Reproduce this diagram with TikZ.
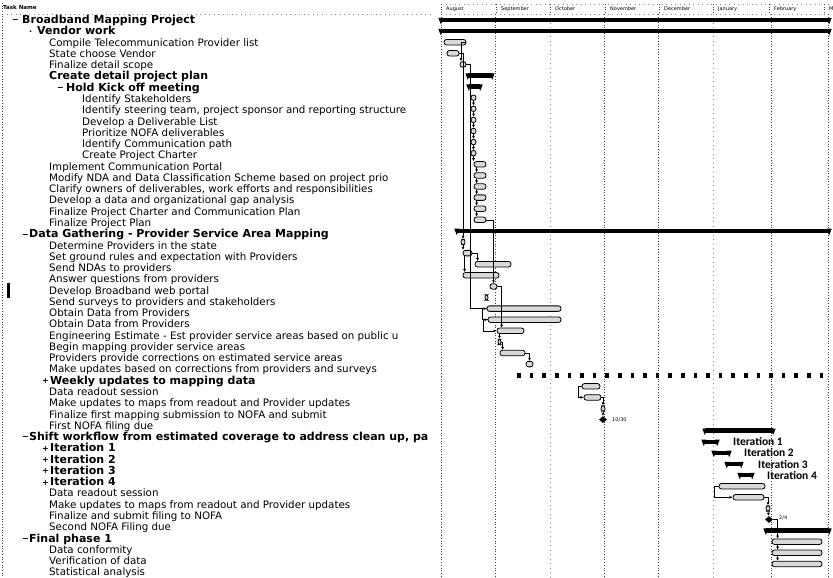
\documentclass[tikz,border=0pt]{standalone}
\usepackage{fontspec}
\setmainfont{DejaVu Sans}
\newfontfamily\iterfont{Carlito}
\usetikzlibrary{shapes.geometric,arrows.meta}
\tikzset{
  tname/.style={anchor=base west, inner sep=0pt, font=\fontsize{10.3}{11}\selectfont},
  tsum/.style={anchor=base west, inner sep=0pt, font=\fontsize{11}{11}\selectfont\bfseries},
  omark/.style={anchor=base west, inner sep=0pt, font=\fontsize{8}{9}\selectfont\bfseries},
  tbar/.style={draw=black, line width=0.8pt, fill=gray!30, rounded corners=2.5pt, minimum height=5.5pt, inner sep=0pt},
  sbar/.style={fill=black, minimum height=4.5pt, inner sep=0pt},
  mstone/.style={diamond, fill=black, minimum width=8pt, minimum height=7pt, inner sep=0pt},
  wk/.style={fill=black, minimum width=3.5pt, minimum height=5pt, inner sep=0pt},
  dep/.style={line width=0.6pt, -{Latex[length=3pt,width=3pt]}},
  gridmain/.style={dotted, line width=0.7pt, black!75},
  gridlight/.style={loosely dotted, line width=0.5pt, black!45},
  hdr/.style={anchor=base west, inner sep=0pt, font=\fontsize{5}{6}\selectfont},
  itlab/.style={anchor=west, inner sep=0pt, font=\iterfont\bfseries\fontsize{11.5}{12}\selectfont},
  dlab/.style={anchor=west, inner sep=0pt, font=\fontsize{5}{6}\selectfont},
}
\newcommand\TL[4]{\node[#1] (n#2) at (#3,{20+11.27*#2+3.6}) {#4};}
\newcommand\OM[3]{\node[omark] (o#1) at (#2,{20+11.27*#1+3}) {#3};}
\newcommand\TB[4]{\node[tbar, minimum width={#4-#3}] (#1) at ({(#3+#4)/2},{20+11.1*#2}) {};}
\newcommand\SB[4]{\node[sbar, minimum width={#4-#3}] (#1) at ({(#3+#4)/2},{20+11.1*#2}) {};
  \fill (#1.west) ++(-2.5,-2.2) -- ++(5,0) -- ++(-2.5,6.5) -- cycle;
  \fill (#1.east) ++(-2.5,-2.2) -- ++(5,0) -- ++(-2.5,6.5) -- cycle;}
\begin{document}
\begin{tikzpicture}[x=1pt,y=-1pt]
\useasboundingbox (0,0) rectangle (833,578);
\fill[white] (0,0) rectangle (833,578);
% ---------- header ----------
\node[hdr, font=\fontsize{5.5}{6}\selectfont\bfseries] (th) at (3,10) {Task Name};
\draw[gridlight] (2,14) -- (431,14);
\draw[gridmain] (2,3) -- (2,578);
\draw[gridlight] (441,4) -- (833,4);
\draw[gridlight] (441,14) -- (833,14);
\foreach \xa/\lab in {441/August,496/September,550/October,605/November,659/December,713/January,769/February,824/M}{
  \draw[gridmain] (\xa,4) -- (\xa,14);
  \node[hdr] at (\xa+5,11) {\lab};
}
% ---------- grid lines in chart ----------
\draw[gridmain] (441,14) -- (441,578);
\foreach \xa in {495,604,658,771,828} \draw[gridmain] (\xa,14) -- (\xa,578);
\foreach \xa in {550,713} \draw[gridlight] (\xa,14) -- (\xa,578);
% scan mark
\fill (7,283) rectangle (9.5,298);
% ---------- task names ----------
\begin{scope}
\clip (0,14) rectangle (431,578);
\OM{0}{12}{−}
\TL{tsum}{0}{22}{Broadband Mapping Project}
\OM{1}{29}{·}
\TL{tsum}{1}{37}{Vendor work}
\TL{tname}{2}{49}{Compile Telecommunication Provider list}
\TL{tname}{3}{49}{State choose Vendor}
\TL{tname}{4}{49}{Finalize detail scope}
\TL{tsum}{5}{49}{Create detail project plan}
\OM{6}{57}{−}
\TL{tsum}{6}{66}{Hold Kick off meeting}
\TL{tname}{7}{82}{Identify Stakeholders}
\TL{tname}{8}{82}{Identify steering team, project sponsor and reporting structure}
\TL{tname}{9}{82}{Develop a Deliverable List}
\TL{tname}{10}{82}{Prioritize NOFA deliverables}
\TL{tname}{11}{82}{Identify Communication path}
\TL{tname}{12}{82}{Create Project Charter}
\TL{tname}{13}{49}{Implement Communication Portal}
\TL{tname}{14}{49}{Modify NDA and Data Classification Scheme based on project prio}
\TL{tname}{15}{49}{Clarify owners of deliverables, work efforts and responsibilities}
\TL{tname}{16}{49}{Develop a data and organizational gap analysis}
\TL{tname}{17}{49}{Finalize Project Charter and Communication Plan}
\TL{tname}{18}{49}{Finalize Project Plan}
\OM{19}{22}{−}
\TL{tsum}{19}{29}{Data Gathering - Provider Service Area Mapping}
\TL{tname}{20}{49}{Determine Providers in the state}
\TL{tname}{21}{49}{Set ground rules and expectation with Providers}
\TL{tname}{22}{49}{Send NDAs to providers}
\TL{tname}{23}{49}{Answer questions from providers}
\TL{tname}{24}{49}{Develop Broadband web portal}
\TL{tname}{25}{49}{Send surveys to providers and stakeholders}
\TL{tname}{26}{49}{Obtain Data from Providers}
\TL{tname}{27}{49}{Obtain Data from Providers}
\TL{tname}{28}{49}{Engineering Estimate - Est provider service areas based on public u}
\TL{tname}{29}{49}{Begin mapping provider service areas}
\TL{tname}{30}{49}{Providers provide corrections on estimated service areas}
\TL{tname}{31}{49}{Make updates based on corrections from providers and surveys}
\OM{32}{42}{+}
\TL{tsum}{32}{50}{Weekly updates to mapping data}
\TL{tname}{33}{49}{Data readout session}
\TL{tname}{34}{49}{Make updates to maps from readout and Provider updates}
\TL{tname}{35}{49}{Finalize first mapping submission to NOFA and submit}
\TL{tname}{36}{49}{First NOFA filing due}
\OM{37}{22}{−}
\TL{tsum}{37}{29}{Shift workflow from estimated coverage to address clean up, pa}
\OM{38}{42}{+}
\TL{tsum}{38}{50}{Iteration 1}
\OM{39}{42}{+}
\TL{tsum}{39}{50}{Iteration 2}
\OM{40}{42}{+}
\TL{tsum}{40}{50}{Iteration 3}
\OM{41}{42}{+}
\TL{tsum}{41}{50}{Iteration 4}
\TL{tname}{42}{49}{Data readout session}
\TL{tname}{43}{49}{Make updates to maps from readout and Provider updates}
\TL{tname}{44}{49}{Finalize and submit filing to NOFA}
\TL{tname}{45}{49}{Second NOFA Filing due}
\OM{46}{22}{−}
\TL{tsum}{46}{29}{Final phase 1}
\TL{tname}{47}{49}{Data conformity}
\TL{tname}{48}{49}{Verification of data}
\TL{tname}{49}{49}{Statistical analysis}
\end{scope}
% ---------- bars ----------
\SB{g0}{0}{441}{829}
\SB{g1}{1}{441}{829}
\TB{b2}{2}{444}{466}
\TB{b3}{3}{447}{459}
\TB{b4}{4}{460}{466}
\SB{g5}{5}{468}{492}
\SB{g6}{6}{469}{480}
\foreach \i in {7,...,12} {\TB{b\i}{\i}{471}{476}}
\foreach \i in {13,...,18} {\TB{b\i}{\i}{474}{486}}
\SB{g19}{19}{457}{829}
\TB{b20}{20}{461}{465}
\TB{b21}{21}{463}{472}
\TB{b22}{22}{475}{511}
\TB{b23}{23}{463}{499}
\TB{b24}{24}{490}{497}
\TB{b25}{25}{485}{488}
\TB{b26}{26}{487}{561}
\TB{b27}{27}{488}{561}
\TB{b28}{28}{497}{524}
\TB{b29}{29}{498}{501}
\TB{b30}{30}{500}{525}
\TB{b31}{31}{526}{533}
\foreach \k in {0,...,24} {\node[wk] (w\k) at ({519+12.6*\k},{20+11.1*32}) {};}
\TB{b33}{33}{582}{600}
\TB{b34}{34}{584}{601}
\TB{b35}{35}{601}{605}
\node[mstone] (m36) at (603,{20+11.1*36}) {};
\node[dlab] (l36) at (612,{20+11.1*36}) {10/30};
\SB{g37}{37}{705}{773}
\SB{g38}{38}{704}{717}
\SB{g39}{39}{714}{729}
\SB{g40}{40}{727}{741}
\SB{g41}{41}{740}{752}
\node[itlab] (i38) at (733,{20+11.1*38}) {Iteration 1};
\node[itlab] (i39) at (744,{20+11.1*39}) {Iteration 2};
\node[itlab] (i40) at (758,{20+11.1*40}) {Iteration 3};
\node[itlab] (i41) at (767,{20+11.1*41}) {Iteration 4};
\TB{b42}{42}{719}{765}
\TB{b43}{43}{733}{764}
\TB{b44}{44}{766}{770}
\node[mstone] (m45) at (769,{20+11.1*45}) {};
\node[dlab] (l45) at (779,{20+11.1*45-2}) {2/4};
\SB{g46}{46}{766}{829}
\TB{b47}{47}{772}{822}
\TB{b48}{48}{772}{822}
\TB{b49}{49}{772}{822}
% ---------- dependencies ----------
\draw[dep] (b3.east) -| (b20.north);
\draw[dep] (b4.east) -- ++(4,0) |- (b26.west);
\draw[dep] (b2.east) -| ([xshift=-2pt]b4.north);
\foreach \i/\j in {7/8,8/9,9/10,10/11,11/12} \draw[dep] (b\i.south) -- (b\j.north);
\draw[dep] (b12.south) -- (b12.south |- b13.north);
\foreach \i/\j in {13/14,14/15,15/16,16/17,17/18}
  \draw[dep] ([xshift=3pt]b\i.south west) -- ([xshift=3pt]b\j.north west);
\draw[dep] (b18.east) -| (b24.north);
\draw[dep] (b20.south) -- (b20.south |- b21.north);
\draw[dep] (b21.east) -| ([xshift=3pt]b22.north west);
\draw[dep] ([xshift=2pt]b21.south west) -- ([xshift=2pt]b23.north west);
\draw[dep] (b24.east) -| ([xshift=5pt]b28.north west);
\draw[dep] (b26.west) -- ++(-4,0) |- (b27.west);
\draw[dep] (b27.west) -- ++(-4,0) |- (b28.west);
\draw[dep] (b29.north |- b28.south) -- (b29.north);
\draw[dep] (b29.east) -| ([xshift=3pt]b30.north west);
\draw[dep] (b30.east) -| (b31.north);
\draw[dep] (b33.west) -- ++(-3,0) |- (b34.west);
\draw[dep] (b34.east) -| (b35.north);
\draw[dep] (b35.south) -- (m36.north);
\draw[dep] (b42.west) -- ++(-4,0) |- (b43.west);
\draw[dep] (b43.east) -| (b44.north);
\draw[dep] (b44.south) -- (m45.north);
\draw[dep] (m45.east) -| ([xshift=6pt]b47.north west);
\draw[dep] ([xshift=6pt]b47.south west) -- ([xshift=6pt]b48.north west);
\draw[dep] ([xshift=6pt]b48.south west) -- ([xshift=6pt]b49.north west);
\end{tikzpicture}
\end{document}
